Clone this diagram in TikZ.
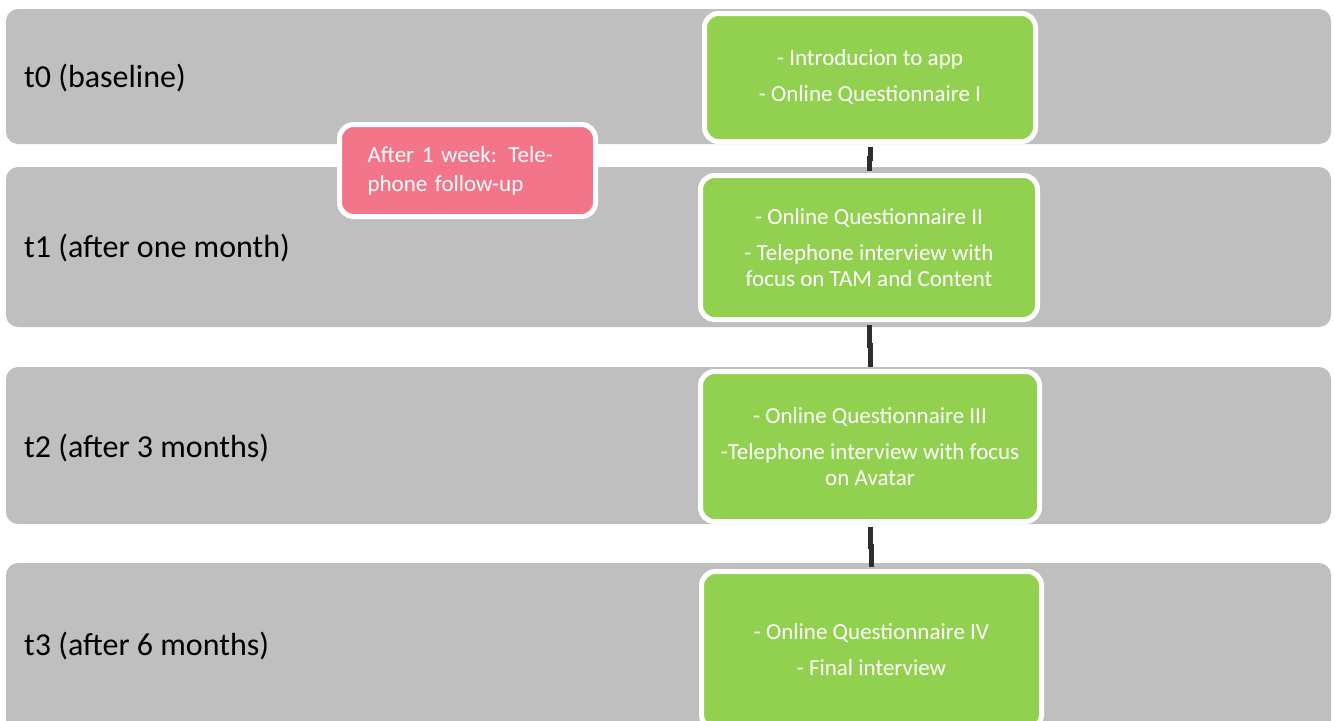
\documentclass[tikz,border=0pt]{standalone}
\usepackage{fontspec}
\setmainfont{Carlito}
\usetikzlibrary{calc,positioning}
\definecolor{bandgray}{RGB}{191,191,191}
\definecolor{stepgreen}{RGB}{146,208,80}
\definecolor{callpink}{RGB}{242,117,137}
\definecolor{linkgray}{RGB}{45,45,45}
\tikzset{
band/.style={fill=bandgray, rounded corners=12pt, minimum width=1325pt, inner sep=0pt}, % grey time bands
bandlabel/.style={font=\fontsize{32}{38}\selectfont, anchor=west, inner sep=0pt},
stepbox/.style={draw=white, line width=5pt, fill=stepgreen, rounded corners=14pt, text=white, align=center, font=\fontsize{23}{26}\selectfont},
callbox/.style={draw=white, line width=5pt, fill=callpink, rounded corners=14pt, text=white, text width=200pt, align=left, font=\fontsize{23}{29}\selectfont},
link/.style={draw=linkgray, line width=5pt, shorten <=2.5pt, shorten >=2.5pt},
}

\begin{document}
\begin{tikzpicture}[x=1pt,y=1pt,yscale=-1]
\useasboundingbox (0,0) rectangle (1335,720);
%Bands
\node (band0) at (668.5,76.5) [band, minimum height=135pt] {};
\node (band1) at (668.5,247) [band, minimum height=160pt] {};
\node (band2) at (668.5,445.5) [band, minimum height=157pt] {};
\node (band3) at (668.5,649) [band, minimum height=172pt] {};
\node (lab0) at (24,78) [bandlabel] {t0 (baseline)};
\node (lab1) at (24,248) [bandlabel] {t1 (after one month)};
\node (lab2) at (24,448) [bandlabel] {t2 (after 3 months)};
\node (lab3) at (24,646) [bandlabel] {t3 (after 6 months)};
%Steps
\node (step0) at (870,77.5) [stepbox, minimum width=331pt, minimum height=128pt] {- Introducion to app\\[10pt]- Online Questionnaire I};
\node (step1) at (869,247.5) [stepbox, minimum width=337pt, minimum height=144pt] {- Online Questionnaire II\\[10pt]- Telephone interview with\\focus on TAM and Content};
\node (step2) at (870,446.5) [stepbox, minimum width=339pt, minimum height=150pt] {- Online Questionnaire III\\[10pt]-Telephone interview with focus\\on Avatar};
\node (step3) at (871.5,650) [stepbox, minimum width=340pt, minimum height=157pt] {- Online Questionnaire IV\\[10pt]- Final interview};
%Call
\node (call) at (467.5,170.5) [callbox, minimum width=256pt, minimum height=92pt] {After 1 week: Tele-\\phone follow-up};
%Links
\draw [link] (step0.south) |- ($(step0.south)!0.5!(step1.north)$) -| (step1.north);
\draw [link] (step1.south) |- ($(step1.south)!0.5!(step2.north)$) -| (step2.north);
\draw [link] (step2.south) |- ($(step2.south)!0.5!(step3.north)$) -| (step3.north);
\end{tikzpicture}
\end{document}
